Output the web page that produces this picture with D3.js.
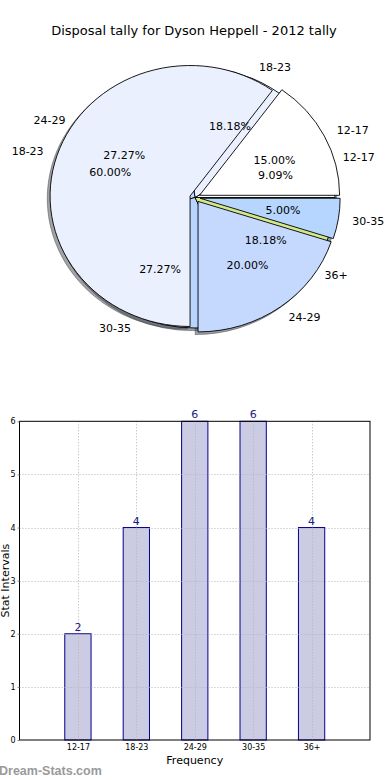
<!DOCTYPE html>
<html>
<head>
<meta charset="utf-8">
<script src="https://cdn.jsdelivr.net/npm/d3@7"></script>
<style>
  html, body { margin: 0; padding: 0; background: #fff; }
  svg { display: block; font-family: "DejaVu Sans", sans-serif; }
</style>
</head>
<body>
<svg id="chart" width="390" height="780"></svg>
<script>
// data
const title = "Disposal tally for Dyson Heppell - 2012 tally";
const categories = ["12-17", "18-23", "24-29", "30-35", "36+"];
const counts = [2, 4, 6, 6, 4];
const tallyCategories = ["12-17", "18-23", "24-29", "30-35"];
const tallyPercents = [15, 60, 20, 5];
const sliceColours = ["#ffffff", "#eaf0fd", "#c5d9fe", "#b6d5ff", "#d2e98a"];
const yTicks = [0, 1, 2, 3, 4, 5, 6];

const svg = d3.select("#chart");

svg.append("text")
    .attr("x", 194)
    .attr("y", 35)
    .attr("text-anchor", "middle")
    .style("font-size", "13px")
    .text(title);

// ---- pie (two pies overlaid, like the original) ----
const cx = 195, cy = 197.5, rx = 140, ry = 130.5, R = 100;
const explode = 0.037;

const pie = d3.pie().sort(null)
    .startAngle(Math.PI / 2)
    .endAngle(Math.PI / 2 - 2 * Math.PI);

const arc = d3.arc().innerRadius(0).outerRadius(R);

const countTotal = d3.sum(counts);
const pieB = pie(counts).map((d, i) => ({...d, label: categories[i], colour: sliceColours[i], pct: 100 * counts[i] / countTotal, ex: 0}));
const pieA = pie(tallyPercents).map((d, i) => ({...d, label: tallyCategories[i], colour: sliceColours[i], pct: tallyPercents[i], ex: explode}));

const mid = d => (d.startAngle + d.endAngle) / 2;
const unit = (d, r) => [Math.sin(mid(d)) * (r + d.ex), -Math.cos(mid(d)) * (r + d.ex)];

const pieG = svg.append("g")
    .attr("transform", `translate(${cx},${cy}) scale(${rx / R},${ry / R})`);

const shadowDx = -0.02 * R, shadowDy = 0.02 * R;

// shadows go under every wedge
[pieB, pieA].forEach(slices => {
    pieG.append("g").selectAll("path")
        .data(slices)
        .enter()
        .append("path")
        .attr("d", arc)
        .attr("transform", d => {
            const [ux, uy] = unit(d, 0);
            return `translate(${ux * R + shadowDx},${uy * R + shadowDy})`;
        })
        .attr("fill", d => {
            const c = d3.rgb(d.colour);
            return d3.rgb(c.r * 0.3, c.g * 0.3, c.b * 0.3);
        })
        .attr("fill-opacity", 0.5)
        .attr("stroke", d => {
            const c = d3.rgb(d.colour);
            return d3.rgb(c.r * 0.3, c.g * 0.3, c.b * 0.3);
        })
        .attr("stroke-opacity", 0.5)
        .attr("stroke-width", 1)
        .attr("vector-effect", "non-scaling-stroke");
});

[pieB, pieA].forEach(slices => {
    pieG.append("g").selectAll("path")
        .data(slices)
        .enter()
        .append("path")
        .attr("d", arc)
        .attr("transform", d => {
            const [ux, uy] = unit(d, 0);
            return `translate(${ux * R},${uy * R})`;
        })
        .attr("fill", d => d.colour)
        .attr("stroke", "#000")
        .attr("stroke-width", 0.9)
        .attr("vector-effect", "non-scaling-stroke")
        .attr("stroke-linejoin", "miter");
});

[pieB, pieA].forEach(slices => {
    const g = svg.append("g").style("font-size", "11px");
    g.selectAll("text.lab")
        .data(slices)
        .enter()
        .append("text")
        .attr("class", "lab")
        .attr("x", d => cx + unit(d, 1.1)[0] * rx)
        .attr("y", d => cy + unit(d, 1.1)[1] * ry)
        .attr("dy", "0.35em")
        .attr("text-anchor", d => unit(d, 1.1)[0] > 0 ? "start" : "end")
        .text(d => d.label);
    g.selectAll("text.pct")
        .data(slices)
        .enter()
        .append("text")
        .attr("class", "pct")
        .attr("x", d => cx + unit(d, 0.6)[0] * rx)
        .attr("y", d => cy + unit(d, 0.6)[1] * ry)
        .attr("dy", "0.35em")
        .attr("text-anchor", "middle")
        .text(d => d.pct.toFixed(2) + "%");
});

// ---- bar chart ----
const margin = {left: 19.5, right: 370, top: 421.3, bottom: 740};
const x = d3.scaleLinear().domain([0, categories.length + 1]).range([margin.left, margin.right]);
const y = d3.scaleLinear().domain([0, d3.max(yTicks)]).range([margin.bottom, margin.top]);
const barWidth = x(0.45) - x(0);

const barG = svg.append("g");

barG.selectAll("rect.bar")
    .data(counts)
    .enter()
    .append("rect")
    .attr("class", "bar")
    .attr("x", (d, i) => x(i + 1) - barWidth / 2)
    .attr("y", d => y(d))
    .attr("width", barWidth)
    .attr("height", d => y(0) - y(d))
    .attr("fill", "#cbcbe3")
    .attr("stroke", "#00008b")
    .attr("stroke-width", 1);

// dotted grid on top of the bars
const grid = svg.append("g")
    .attr("stroke", "#b4b4b4")
    .attr("stroke-width", 1)
    .attr("stroke-dasharray", "1,2");
grid.selectAll("line.gx")
    .data(categories)
    .enter()
    .append("line")
    .attr("x1", (d, i) => Math.round(x(i + 1)) + 0.5)
    .attr("x2", (d, i) => Math.round(x(i + 1)) + 0.5)
    .attr("y1", margin.top)
    .attr("y2", margin.bottom);
grid.selectAll("line.gy")
    .data(yTicks.slice(1, -1))
    .enter()
    .append("line")
    .attr("x1", margin.left)
    .attr("x2", margin.right)
    .attr("y1", d => Math.round(y(d)) + 0.5)
    .attr("y2", d => Math.round(y(d)) + 0.5);

svg.append("rect")
    .attr("x", margin.left)
    .attr("y", margin.top)
    .attr("width", margin.right - margin.left)
    .attr("height", margin.bottom - margin.top)
    .attr("fill", "none")
    .attr("stroke", "#000")
    .attr("stroke-width", 1);

const xAxis = svg.append("g")
    .attr("transform", `translate(0,${margin.bottom})`)
    .call(d3.axisBottom(x)
        .tickValues(categories.map((d, i) => i + 1))
        .tickFormat((d, i) => categories[i])
        .tickSize(0)
        .tickPadding(4));
xAxis.select(".domain").remove();
xAxis.selectAll("text").style("font-size", "8px").style("font-family", "DejaVu Sans");

const yAxis = svg.append("g")
    .attr("transform", `translate(${margin.left},0)`)
    .call(d3.axisLeft(y)
        .tickValues(yTicks)
        .tickFormat(d3.format("d"))
        .tickSize(2)
        .tickPadding(2));
yAxis.select(".domain").remove();
yAxis.selectAll("line").attr("stroke", "#888");
yAxis.selectAll("text").style("font-size", "8px").style("font-family", "DejaVu Sans");

svg.append("g").selectAll("text")
    .data(counts)
    .enter()
    .append("text")
    .attr("x", (d, i) => x(i + 1))
    .attr("y", d => y(d) - 3)
    .attr("text-anchor", "middle")
    .attr("fill", "#1a1a80")
    .style("font-size", "11px")
    .text(d => d);

svg.append("text")
    .attr("x", (margin.left + margin.right) / 2)
    .attr("y", 764)
    .attr("text-anchor", "middle")
    .style("font-size", "11px")
    .text("Frequency");

svg.append("text")
    .attr("transform", `translate(9,${(margin.top + margin.bottom) / 2}) rotate(-90)`)
    .attr("text-anchor", "middle")
    .style("font-size", "11px")
    .text("Stat Intervals");

svg.append("text")
    .attr("x", -1)
    .attr("y", 775)
    .attr("fill", "#9a9a9a")
    .style("font-family", "'Liberation Sans', sans-serif")
    .style("font-weight", "bold")
    .style("font-size", "12.5px")
    .text("Dream-Stats.com");
</script>
</body>
</html>
